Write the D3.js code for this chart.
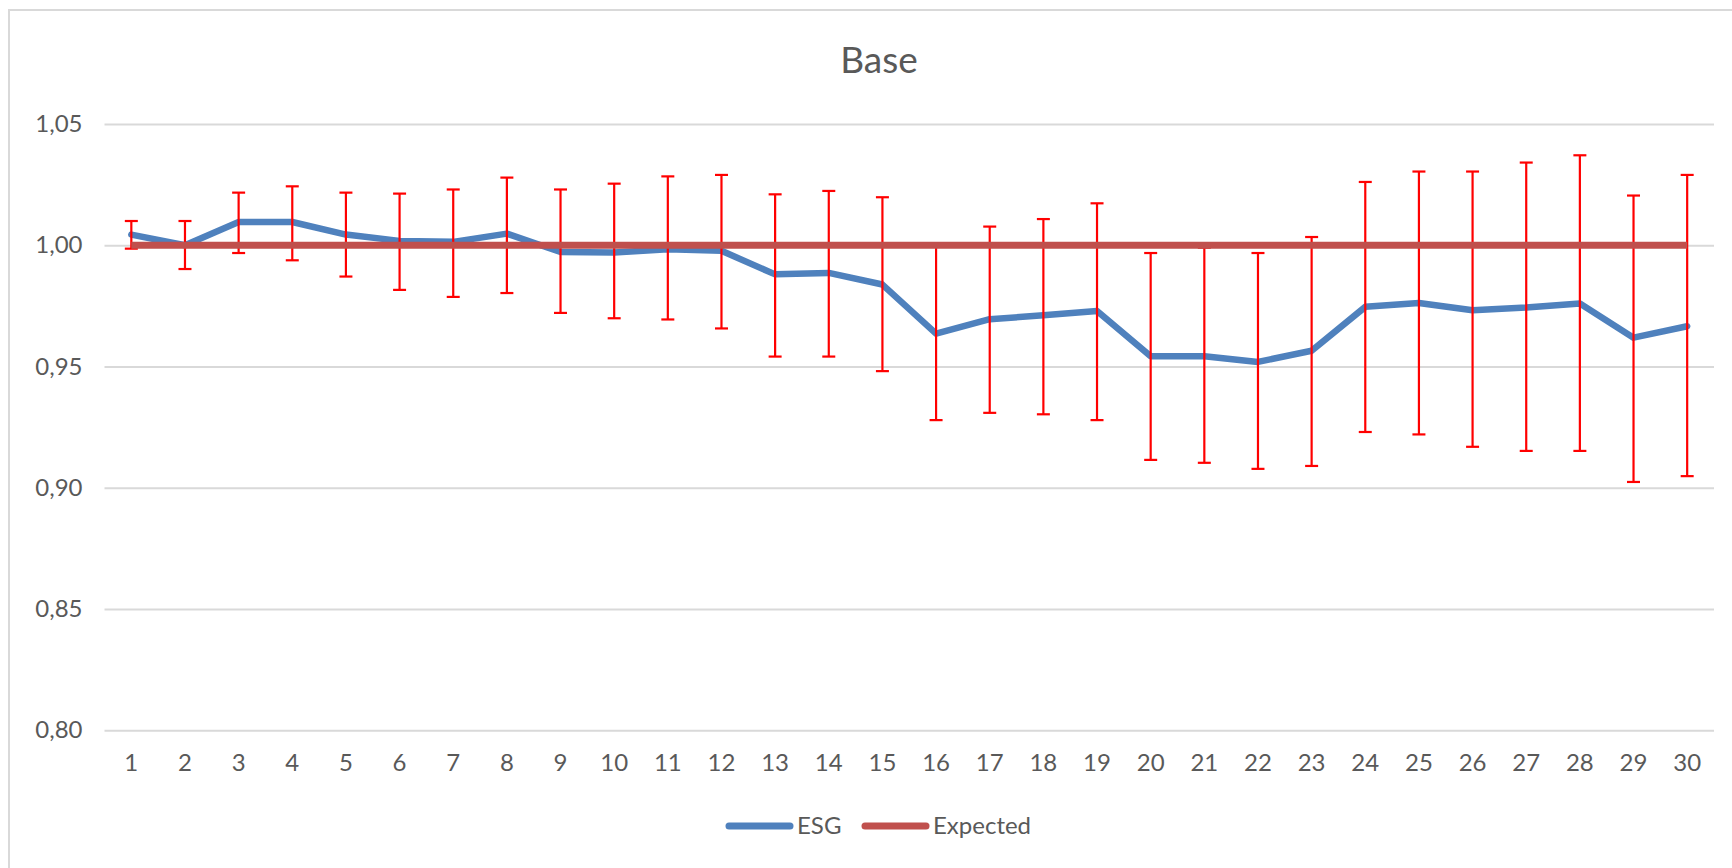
<!DOCTYPE html>
<html>
<head>
<meta charset="utf-8">
<script src="https://cdn.jsdelivr.net/npm/d3@7"></script>
<style>
	body { margin: 0; background: #fff; }
	text { font-family: Lato, "Open Sans", sans-serif; fill: #595959; }
</style>
</head>
<body>
<div id="chart"></div>
<script>
'use strict';

// categories 1..30
const categories = ["1","2","3","4","5","6","7","8","9","10",
	"11","12","13","14","15","16","17","18","19","20",
	"21","22","23","24","25","26","27","28","29","30"];

// ESG series
const esg = [1.0044, 1.0000, 1.0096, 1.0096, 1.0044, 1.0018, 1.0014, 1.0048, 0.9972, 0.9970,
	0.9984, 0.9977, 0.9880, 0.9886, 0.9838, 0.9636, 0.9695, 0.9711, 0.9729, 0.9542,
	0.9542, 0.9519, 0.9565, 0.9746, 0.9762, 0.9732, 0.9743, 0.9760, 0.9619, 0.9666];

// error bar ends
const errHigh = [1.0100, 1.0100, 1.0217, 1.0243, 1.0217, 1.0213, 1.0230, 1.0279, 1.0230, 1.0254,
	1.0284, 1.0290, 1.0210, 1.0224, 1.0198, 1.0000, 1.0077, 1.0108, 1.0173, 0.9968,
	0.9990, 0.9968, 1.0034, 1.0261, 1.0304, 1.0304, 1.0341, 1.0371, 1.0205, 1.0290];
const errLow = [0.9986, 0.9902, 0.9968, 0.9938, 0.9871, 0.9816, 0.9787, 0.9803, 0.9721, 0.9699,
	0.9694, 0.9657, 0.9541, 0.9541, 0.9481, 0.9279, 0.9309, 0.9303, 0.9279, 0.9115,
	0.9103, 0.9078, 0.9090, 0.9230, 0.9220, 0.9169, 0.9152, 0.9152, 0.9024, 0.9048];

const expected = categories.map(() => 1.00);

const yTicks = [0.80, 0.85, 0.90, 0.95, 1.00, 1.05];
const seriesNames = ["ESG", "Expected"];
const seriesColors = ["#4f81bd", "#c0504d"];

const width = 1732, height = 868;
const plot = { left: 104.5, right: 1714, top: 124, bottom: 730.3 };

const svg = d3.select("#chart")
	.append("svg")
		.attr("width", width)
		.attr("height", height)
	;

// chart area frame (only left/top visible in the crop)
svg.append("rect")
	.attr("x", 9)
	.attr("y", 10)
	.attr("width", width + 20)
	.attr("height", height + 20)
	.attr("fill", "none")
	.attr("stroke", "#d9d9d9")
	.attr("stroke-width", 2)
	;

const xScale = d3.scaleBand()
	.domain(categories)
	.range([plot.left, plot.right])
	.padding(0)
	;
const cx = (i) => xScale(categories[i]) + xScale.bandwidth() / 2;

const yScale = d3.scaleLinear()
	.domain([0.80, 1.05])
	.range([plot.bottom, plot.top])
	;

// y axis with gridlines
const yAxis = svg.append("g")
	.attr("transform", `translate(${plot.left},0)`)
	.call(d3.axisLeft(yScale)
		.tickValues(yTicks)
		.tickSize(-(plot.right - plot.left))
		.tickPadding(22)
		.tickFormat(d => d3.format(".2f")(d).replace(".", ",")))
	;
yAxis.select(".domain").remove();
yAxis.selectAll(".tick line")
	.attr("stroke", "#d9d9d9")
	.attr("stroke-width", 2)
	;
yAxis.selectAll(".tick text")
	.attr("font-size", 24)
	.style("fill", "#595959")
	;

// x axis labels
const xAxis = svg.append("g")
	.attr("transform", `translate(0,${plot.bottom})`)
	.call(d3.axisBottom(xScale).tickSize(0).tickPadding(24))
	;
xAxis.select(".domain").remove();
xAxis.selectAll(".tick text")
	.attr("font-size", 24)
	.style("fill", "#595959")
	;

// ESG line
const line = d3.line()
	.x((d, i) => cx(i))
	.y(d => yScale(d))
	;

svg.append("path")
	.datum(esg)
	.attr("d", line)
	.attr("fill", "none")
	.attr("stroke", seriesColors[0])
	.attr("stroke-width", 6.5)
	.attr("stroke-linejoin", "round")
	.attr("stroke-linecap", "round")
	;

// error bars
const bars = svg.append("g")
	.attr("stroke", "#ff0000")
	.attr("stroke-width", 2.2)
	.selectAll("g")
	.data(esg)
	.join("g")
	;
bars.append("line")
	.attr("x1", (d, i) => cx(i))
	.attr("x2", (d, i) => cx(i))
	.attr("y1", (d, i) => yScale(errHigh[i]))
	.attr("y2", (d, i) => yScale(errLow[i]))
	;
bars.append("line")
	.attr("x1", (d, i) => cx(i) - 6.5)
	.attr("x2", (d, i) => cx(i) + 6.5)
	.attr("y1", (d, i) => yScale(errHigh[i]))
	.attr("y2", (d, i) => yScale(errHigh[i]))
	;
bars.append("line")
	.attr("x1", (d, i) => cx(i) - 6.5)
	.attr("x2", (d, i) => cx(i) + 6.5)
	.attr("y1", (d, i) => yScale(errLow[i]))
	.attr("y2", (d, i) => yScale(errLow[i]))
	;

// Expected line, on top
svg.append("path")
	.datum(expected)
	.attr("d", line)
	.attr("fill", "none")
	.attr("stroke", seriesColors[1])
	.attr("stroke-width", 7)
	;

// title
svg.append("text")
	.attr("x", 879)
	.attr("y", 73)
	.attr("text-anchor", "middle")
	.attr("font-size", 37)
	.text("Base")
	;

// legend
const legendX = [729, 865];
const legend = svg.append("g")
	.selectAll("g")
	.data(seriesNames)
	.join("g")
		.attr("transform", (d, i) => `translate(${legendX[i]},826)`)
	;
legend.append("line")
	.attr("x1", 0)
	.attr("x2", 61)
	.attr("stroke", (d, i) => seriesColors[i])
	.attr("stroke-width", 7)
	.attr("stroke-linecap", "round")
	;
legend.append("text")
	.attr("x", 68)
	.attr("dy", "0.35em")
	.attr("font-size", 24)
	.text(d => d)
	;
</script>
</body>
</html>
